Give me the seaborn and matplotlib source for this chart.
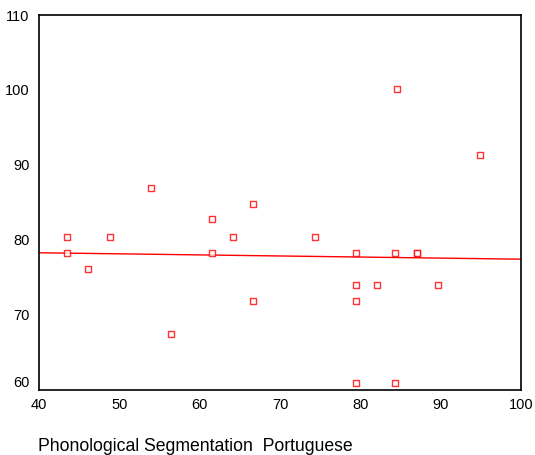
import matplotlib
matplotlib.use("Agg")
import matplotlib.pyplot as plt
import pandas as pd
import seaborn as sns

# Scores
phon_seg = [43.5, 43.5, 46.1, 48.8, 53.9, 56.4, 61.5, 61.5, 64.2, 66.6, 66.6,
            74.4, 79.5, 79.5, 79.5, 79.5, 82.1, 84.3, 84.6, 84.3, 87.1, 87.1,
            89.7, 94.9]
portuguese = [80.4, 78.3, 76.1, 80.4, 86.9, 67.5, 82.8, 78.3, 80.4, 84.8, 71.9,
              80.4, 78.3, 74.0, 71.9, 60.9, 74.0, 78.3, 100.1, 60.9, 78.3, 78.3,
              74.0, 91.3]
x_ticks = [40, 50, 60, 70, 80, 90, 100]
y_ticks = [60, 70, 80, 90, 100, 110]

df = pd.DataFrame({'seg': phon_seg, 'port': portuguese})

sns.set_style('white')
plt.rcParams['font.family'] = ['Liberation Sans', 'DejaVu Sans']

fig = plt.figure(figsize=(5.35, 4.55), dpi=100)
ax = fig.add_axes([0.073, 0.143, 0.901, 0.824])
ax.set_xlim(40, 100)
ax.set_ylim(60, 110)

sns.regplot(x='seg', y='port', data=df, ax=ax, ci=None, truncate=False,
            marker='s',
            scatter_kws={'s': 22, 'facecolors': 'white', 'edgecolors': 'red',
                         'linewidths': 1.0, 'zorder': 3},
            line_kws={'color': 'red', 'lw': 1.0, 'zorder': 2})

ax.set_xlim(40, 100)
ax.set_ylim(60, 110)
ax.set_xticks(x_ticks)
ax.set_yticks(y_ticks)
for s in ax.spines.values():
    s.set_color('black')
    s.set_linewidth(1.2)
ax.tick_params(axis='both', direction='out', length=2, width=2, color='black',
               labelsize=10.5, labelcolor='black')
ax.tick_params(axis='x', pad=4)
ax.tick_params(axis='y', pad=5)
ax.set_xlabel('')
ax.set_ylabel('')

# lowest y label sits above its tick, like the original
ax.get_yticklabels()[0].set_va('bottom')

fig.text(0.071, 0.009, 'Phonological Segmentation  Portuguese', fontsize=12.7,
         ha='left', va='baseline', color='black')

fig.savefig('out.png', dpi=100)
